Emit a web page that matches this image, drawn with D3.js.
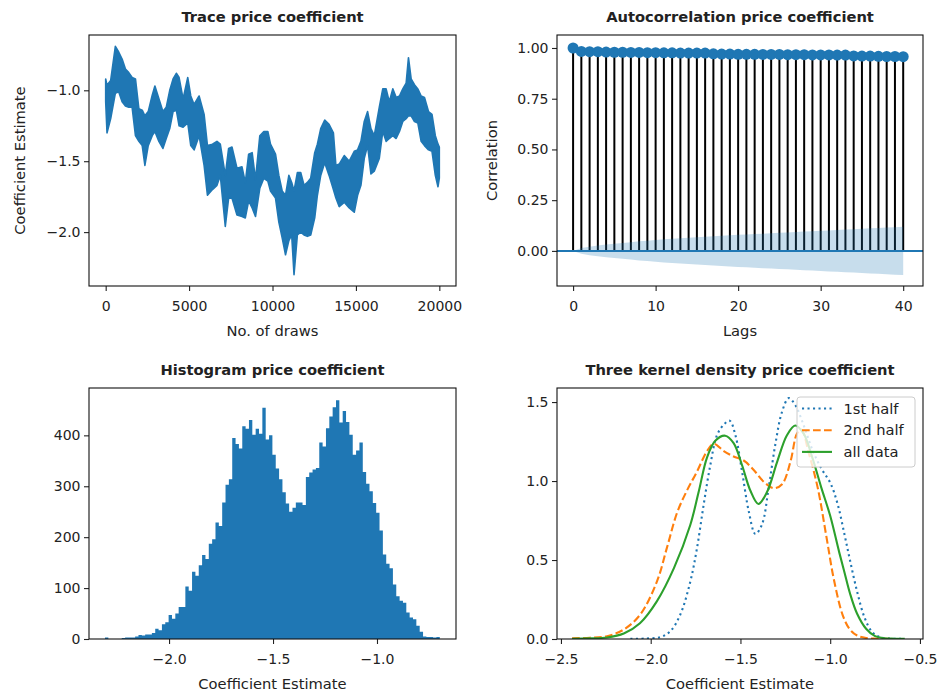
<!DOCTYPE html>
<html>
<head>
<meta charset="utf-8">
<script src="https://cdn.jsdelivr.net/npm/d3@7"></script>
<style>
  body { margin: 0; background: #fff; }
  svg text { font-family: "DejaVu Sans", sans-serif; fill: #222; }
</style>
</head>
<body>
<svg id="fig" width="937" height="696"></svg>
<script>
// ---- MCMC trace of the price coefficient: band of draws (upper / lower envelope)
const traceDraws = [0, 80, 300, 580, 780, 985, 1185, 1385, 1585, 1785, 1990, 2190, 2350, 2550, 2790, 2950,
  3190, 3430, 3630, 3840, 4040, 4235, 4400, 4640, 4920, 5100, 5300, 5600, 5900, 6100, 6400, 6670, 6870,
  7170, 7370, 7570, 7870, 8170, 8370, 8570, 8780, 8980, 9240, 9480, 9720, 9880, 10180, 10380, 10580,
  10780, 10980, 11150, 11290, 11490, 11690, 11890, 12090, 12290, 12530, 12690, 12890, 13130, 13390,
  13650, 13800, 14000, 14300, 14600, 14900, 15100, 15300, 15500, 15700, 15900, 16100, 16400, 16610,
  16810, 17000, 17210, 17410, 17610, 17810, 18010, 18150, 18310, 18510, 18710, 18910, 19110, 19350,
  19560, 19760, 19920, 19999];
const traceHigh = [-0.92, -0.965, -0.93, -0.69, -0.73, -0.78, -0.85, -0.875, -0.91, -0.92, -1.13, -1.14,
  -1.18, -1.15, -1.035, -0.97, -1.06, -1.15, -1.12, -1.00, -0.92, -0.88, -0.91, -1.06, -0.91, -1.04,
  -1.10, -1.04, -1.17, -1.39, -1.38, -1.36, -1.38, -1.60, -1.41, -1.40, -1.55, -1.54, -1.65, -1.45,
  -1.44, -1.63, -1.32, -1.29, -1.29, -1.38, -1.45, -1.60, -1.71, -1.74, -1.60, -1.65, -1.71, -1.58,
  -1.58, -1.67, -1.65, -1.62, -1.44, -1.38, -1.27, -1.21, -1.24, -1.30, -1.53, -1.52, -1.46, -1.50,
  -1.43, -1.42, -1.36, -1.22, -1.15, -1.27, -1.32, -1.12, -0.99, -0.99, -1.08, -0.99, -1.05, -1.04,
  -0.99, -0.95, -0.77, -0.92, -0.96, -0.99, -1.04, -1.05, -1.15, -1.17, -1.32, -1.38, -1.40];
const traceLow = [-1.08, -1.30, -1.20, -1.02, -1.01, -1.08, -1.11, -1.12, -1.12, -1.32, -1.36, -1.39,
  -1.53, -1.39, -1.32, -1.29, -1.36, -1.41, -1.34, -1.27, -1.15, -1.14, -1.25, -1.26, -1.23, -1.39,
  -1.42, -1.32, -1.53, -1.74, -1.70, -1.67, -1.60, -1.96, -1.76, -1.76, -1.88, -1.89, -1.90, -1.78,
  -1.83, -1.89, -1.69, -1.62, -1.64, -1.71, -1.76, -1.93, -2.04, -2.16, -2.06, -2.02, -2.30, -2.02,
  -2.00, -2.02, -2.03, -2.02, -1.90, -1.74, -1.60, -1.51, -1.60, -1.70, -1.76, -1.82, -1.79, -1.83,
  -1.86, -1.74, -1.67, -1.48, -1.39, -1.59, -1.57, -1.48, -1.29, -1.36, -1.34, -1.32, -1.34, -1.29,
  -1.22, -1.20, -1.18, -1.18, -1.22, -1.23, -1.36, -1.39, -1.42, -1.43, -1.60, -1.68, -1.62];
const traceXTicks = [0, 5000, 10000, 15000, 20000];
const traceYTicks = [-2.0, -1.5, -1.0];

// ---- autocorrelation by lag, with the confidence band half-width
const acfLags = d3.range(0, 41);
const acfValues = [1.000, 0.983, 0.982, 0.982, 0.980, 0.979, 0.979, 0.978, 0.978, 0.977, 0.977, 0.976,
  0.976, 0.975, 0.975, 0.975, 0.975, 0.971, 0.970, 0.970, 0.969, 0.969, 0.969, 0.968, 0.968, 0.968,
  0.967, 0.967, 0.967, 0.966, 0.966, 0.966, 0.965, 0.965, 0.961, 0.960, 0.960, 0.959, 0.958, 0.958, 0.957];
const acfBand = [0.000, 0.014, 0.021, 0.026, 0.031, 0.035, 0.039, 0.043, 0.047, 0.050, 0.054, 0.057,
  0.060, 0.062, 0.065, 0.067, 0.070, 0.072, 0.075, 0.077, 0.079, 0.081, 0.083, 0.085, 0.087, 0.089,
  0.091, 0.093, 0.095, 0.097, 0.099, 0.101, 0.103, 0.105, 0.107, 0.109, 0.111, 0.113, 0.115, 0.117, 0.119];
const acfXTicks = [0, 10, 20, 30, 40];
const acfYTicks = [0.00, 0.25, 0.50, 0.75, 1.00];

// ---- histogram of the draws (100 equal bins)
const histStart = -2.308;
const histBinWidth = 0.0161;
const histCounts = [3, 0, 0, 0, 0, 2, 3, 3, 3, 5, 8, 7, 9, 9, 12, 20, 17, 29, 33, 47, 40, 50, 63, 63,
  103, 95, 132, 124, 145, 165, 157, 187, 196, 229, 222, 268, 303, 314, 395, 383, 374, 418, 413, 430,
  401, 413, 403, 454, 392, 400, 362, 335, 314, 288, 266, 250, 258, 268, 268, 263, 318, 327, 333, 336,
  386, 378, 414, 437, 455, 469, 425, 448, 426, 401, 362, 370, 386, 328, 305, 290, 267, 248, 213, 166,
  148, 139, 107, 84, 75, 71, 52, 42, 39, 26, 14, 5, 4, 4, 3, 4];
const histXTicks = [-2.0, -1.5, -1.0];
const histYTicks = [0, 100, 200, 300, 400];

// ---- kernel density estimates: [coefficient, density]
const kdeFirstHalf = [[-2.113, 0.001], [-2.03, 0.003], [-1.946, 0.012], [-1.89, 0.05], [-1.835, 0.155],
  [-1.779, 0.365], [-1.742, 0.576], [-1.705, 0.85], [-1.668, 1.10], [-1.631, 1.29], [-1.593, 1.357],
  [-1.56, 1.382], [-1.528, 1.29], [-1.491, 1.06], [-1.454, 0.81], [-1.417, 0.665], [-1.38, 0.725],
  [-1.343, 0.956], [-1.306, 1.23], [-1.268, 1.44], [-1.231, 1.525], [-1.194, 1.48], [-1.15, 1.36],
  [-1.10, 1.20], [-1.05, 1.08], [-1.0, 0.99], [-0.96, 0.86], [-0.92, 0.66], [-0.89, 0.50], [-0.85, 0.30],
  [-0.81, 0.14], [-0.77, 0.05], [-0.73, 0.015], [-0.68, 0.004], [-0.62, 0.001], [-0.585, 0.0005]];
const kdeSecondHalf = [[-2.438, 0.004], [-2.34, 0.008], [-2.243, 0.018], [-2.15, 0.06], [-2.058, 0.155],
  [-1.965, 0.365], [-1.909, 0.58], [-1.853, 0.80], [-1.798, 0.94], [-1.742, 1.06], [-1.686, 1.19],
  [-1.649, 1.235], [-1.593, 1.19], [-1.538, 1.155], [-1.482, 1.13], [-1.426, 1.07], [-1.37, 0.995],
  [-1.315, 0.955], [-1.268, 0.98], [-1.222, 1.12], [-1.185, 1.30], [-1.16, 1.325], [-1.12, 1.18],
  [-1.07, 0.96], [-1.02, 0.64], [-0.98, 0.38], [-0.93, 0.15], [-0.89, 0.06], [-0.85, 0.022],
  [-0.80, 0.006], [-0.74, 0.002], [-0.67, 0.001]];
const kdeAllData = [[-2.438, 0.002], [-2.34, 0.004], [-2.243, 0.01], [-2.15, 0.035], [-2.06, 0.10],
  [-1.965, 0.24], [-1.87, 0.45], [-1.78, 0.72], [-1.733, 0.93], [-1.686, 1.15], [-1.64, 1.255],
  [-1.585, 1.287], [-1.538, 1.24], [-1.491, 1.10], [-1.445, 0.94], [-1.40, 0.855], [-1.352, 0.93],
  [-1.296, 1.12], [-1.241, 1.29], [-1.195, 1.352], [-1.148, 1.30], [-1.10, 1.15], [-1.05, 0.96],
  [-1.0, 0.78], [-0.95, 0.55], [-0.92, 0.42], [-0.89, 0.29], [-0.85, 0.16], [-0.80, 0.065],
  [-0.75, 0.018], [-0.70, 0.005], [-0.64, 0.002], [-0.585, 0.001]];
const kdeLabels = ["1st half", "2nd half", "all data"];
const kdeXTicks = [-2.5, -2.0, -1.5, -1.0, -0.5];
const kdeYTicks = [0.0, 0.5, 1.0, 1.5];

const BLUE = "#1f77b4", ORANGE = "#ff7f0e", GREEN = "#2ca02c";
const FS = 14.7;      // titles, axis labels, legend
const TICK_FS = 14;   // tick labels

const svg = d3.select("#fig");

function panel(id, x, y, w, h) {
  const g = svg.append("g").attr("transform", `translate(${x},${y})`);
  svg.append("clipPath").attr("id", id).append("rect").attr("width", w).attr("height", h);
  return g;
}

function axes(g, xs, ys, w, h, opt) {
  const xa = g.append("g").attr("transform", `translate(0,${h})`)
    .call(d3.axisBottom(xs).tickValues(opt.xt).tickFormat(opt.xf)
      .tickSizeInner(5).tickSizeOuter(0).tickPadding(10.5));
  const ya = g.append("g")
    .call(d3.axisLeft(ys).tickValues(opt.yt).tickFormat(opt.yf)
      .tickSizeInner(5).tickSizeOuter(0).tickPadding(3.5));
  [xa, ya].forEach(a => {
    a.attr("font-size", TICK_FS).attr("font-family", "DejaVu Sans").attr("color", "#222");
    a.select(".domain").remove();
    a.selectAll(".tick line").attr("stroke-width", 1.1);
  });
  g.append("rect").attr("width", w).attr("height", h)
    .attr("fill", "none").attr("stroke", "#111").attr("stroke-width", 1.1);
  g.append("text").attr("x", w / 2).attr("y", -13).attr("text-anchor", "middle")
    .attr("font-weight", "bold").attr("font-size", FS).text(opt.title);
  if (opt.xl) g.append("text").attr("x", w / 2).attr("y", h + 50).attr("text-anchor", "middle")
    .attr("font-size", FS).text(opt.xl);
  if (opt.yl) g.append("text").attr("transform", `translate(${opt.ylx},${h / 2}) rotate(-90)`)
    .attr("dy", "0.35em").attr("text-anchor", "middle").attr("font-size", FS).text(opt.yl);
}

// ===== Trace =====
{
  const w = 367, h = 251;
  const g = panel("clipTrace", 89, 35, w, h);
  const xs = d3.scaleLinear().domain([-1000, 20999]).range([0, w]);
  const ys = d3.scaleLinear().domain([-2.38, -0.61]).range([h, 0]);
  const rows = traceDraws.map((d, i) => ({ d, hi: traceHigh[i], lo: traceLow[i] }));
  g.append("path").datum(rows)
    .attr("clip-path", "url(#clipTrace)")
    .attr("d", d3.area().x(r => xs(r.d)).y0(r => ys(r.lo)).y1(r => ys(r.hi)))
    .attr("fill", BLUE).attr("stroke", BLUE).attr("stroke-width", 1.6).attr("stroke-linejoin", "round");
  axes(g, xs, ys, w, h, {
    xt: traceXTicks, xf: d3.format("d"), yt: traceYTicks, yf: d3.format(".1f"),
    title: "Trace price coefficient", xl: "No. of draws", yl: "Coefficient Estimate", ylx: -69
  });
}

// ===== Autocorrelation =====
{
  const w = 366, h = 251;
  const g = panel("clipAcf", 557, 35, w, h);
  const xs = d3.scaleLinear().domain([-1.95, 42.4]).range([0, w]);
  const ys = d3.scaleLinear().domain([-0.173, 1.064]).range([h, 0]);
  const inner = g.append("g").attr("clip-path", "url(#clipAcf)");
  inner.selectAll("line.stem").data(acfLags).join("line").attr("class", "stem")
    .attr("x1", l => xs(l)).attr("x2", l => xs(l))
    .attr("y1", ys(0)).attr("y2", l => ys(acfValues[l]))
    .attr("stroke", "#000").attr("stroke-width", 2);
  inner.append("path").datum(acfLags)
    .attr("d", d3.area().x(l => xs(l)).y0(l => ys(-acfBand[l])).y1(l => ys(acfBand[l])))
    .attr("fill", BLUE).attr("fill-opacity", 0.25);
  inner.append("line").attr("x1", 0).attr("x2", w).attr("y1", ys(0)).attr("y2", ys(0))
    .attr("stroke", BLUE).attr("stroke-width", 2);
  inner.selectAll("circle").data(acfLags).join("circle")
    .attr("cx", l => xs(l)).attr("cy", l => ys(acfValues[l])).attr("r", 5.5)
    .attr("fill", BLUE);
  axes(g, xs, ys, w, h, {
    xt: acfXTicks, xf: d3.format("d"), yt: acfYTicks, yf: d3.format(".2f"),
    title: "Autocorrelation price coefficient", xl: "Lags", yl: "Correlation", ylx: -65
  });
}

// ===== Histogram =====
{
  const w = 367, h = 251;
  const g = panel("clipHist", 89, 388, w, h);
  const xs = d3.scaleLinear().domain([-2.385, -0.620]).range([0, w]);
  const ys = d3.scaleLinear().domain([0, 493]).range([h, 0]);
  // step outline of the bins, drawn as one filled shape so adjacent bars leave no seams
  const steps = histCounts.map((c, i) => [histStart + i * histBinWidth, c]);
  steps.push([histStart + histCounts.length * histBinWidth, histCounts[histCounts.length - 1]]);
  g.append("path").datum(steps)
    .attr("clip-path", "url(#clipHist)")
    .attr("d", d3.area().x(d => xs(d[0])).y0(ys(0)).y1(d => ys(d[1])).curve(d3.curveStepAfter))
    .attr("fill", BLUE);
  axes(g, xs, ys, w, h, {
    xt: histXTicks, xf: d3.format(".1f"), yt: histYTicks, yf: d3.format("d"),
    title: "Histogram price coefficient", xl: "Coefficient Estimate"
  });
}

// ===== Kernel densities =====
{
  const w = 366, h = 251;
  const g = panel("clipKde", 557, 388, w, h);
  const xs = d3.scaleLinear().domain([-2.522, -0.483]).range([0, w]);
  const ys = d3.scaleLinear().domain([0, 1.589]).range([h, 0]);
  const line = d3.line().x(d => xs(d[0])).y(d => ys(d[1])).curve(d3.curveCatmullRom.alpha(0.5));
  const series = [
    { data: kdeFirstHalf, color: BLUE, dash: "2.1,3.4", label: kdeLabels[0] },
    { data: kdeSecondHalf, color: ORANGE, dash: "7.7,3.3", label: kdeLabels[1] },
    { data: kdeAllData, color: GREEN, dash: null, label: kdeLabels[2] }
  ];
  const inner = g.append("g").attr("clip-path", "url(#clipKde)");
  series.forEach(s => {
    inner.append("path").datum(s.data).attr("d", line)
      .attr("fill", "none").attr("stroke", s.color).attr("stroke-width", 2.1)
      .attr("stroke-dasharray", s.dash);
  });
  axes(g, xs, ys, w, h, {
    xt: kdeXTicks, xf: d3.format(".1f"), yt: kdeYTicks, yf: d3.format(".1f"),
    title: "Three kernel density price coefficient", xl: "Coefficient Estimate"
  });
  // legend, upper right
  const lg = g.append("g").attr("transform", "translate(240,9)");
  lg.append("rect").attr("width", 118).attr("height", 70).attr("rx", 3)
    .attr("fill", "#fff").attr("fill-opacity", 0.8).attr("stroke", "#ccc").attr("stroke-width", 1);
  series.forEach((s, i) => {
    const cy = 11.5 + i * 21.7;
    lg.append("line").attr("x1", 5).attr("x2", 35).attr("y1", cy).attr("y2", cy)
      .attr("stroke", s.color).attr("stroke-width", 2.1).attr("stroke-dasharray", s.dash);
    lg.append("text").attr("x", 46.5).attr("y", cy).attr("dy", "0.35em")
      .attr("font-size", FS).text(s.label);
  });
}
</script>
</body>
</html>
